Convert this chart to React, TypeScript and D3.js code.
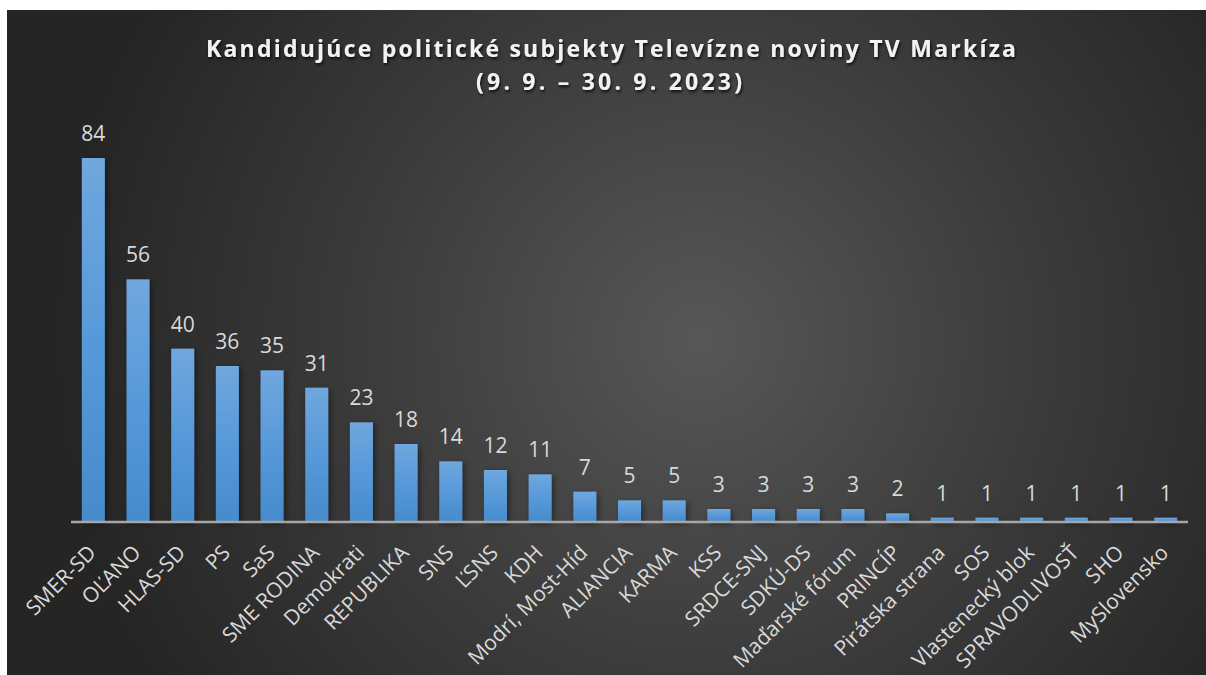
import React from "react";
import * as d3 from "d3";

const categories = [
  "SMER-SD", "OĽANO", "HLAS-SD", "PS", "SaS", "SME RODINA", "Demokrati", "REPUBLIKA",
  "SNS", "ĽSNS", "KDH", "Modrí, Most-Híd", "ALIANCIA", "KARMA", "KSS", "SRDCE-SNJ",
  "SDKÚ-DS", "Maďarské fórum", "PRINCÍP", "Pirátska strana", "SOS", "Vlastenecký blok",
  "SPRAVODLIVOSŤ", "SHO", "MySlovensko",
];
const values = [84, 56, 40, 36, 35, 31, 23, 18, 14, 12, 11, 7, 5, 5, 3, 3, 3, 3, 2, 1, 1, 1, 1, 1, 1];
const titleLines = ["Kandidujúce politické subjekty Televízne noviny TV Markíza", "(9. 9. – 30. 9. 2023)"];

const W = 1206;
const H = 675;
const axisY = 522;
const x0 = 71;
const x1 = 1188;

export default function App() {
  const x = d3.scaleBand<string>().domain(categories).range([x0, x1]).paddingInner(0.485).paddingOuter(0.2425);
  const y = d3.scaleLinear().domain([0, 90]).range([axisY, axisY - 90 * (364 / 84)]);
  const font = "'Open Sans', 'Noto Sans', sans-serif";
  return (
    <svg width={W} height={H} style={{ position: "absolute", left: 0, top: 0 }}>
      <defs>
        <radialGradient id="bg" gradientUnits="userSpaceOnUse" cx={700} cy={340} r={640}>
          <stop offset="0" stopColor="#575757" />
          <stop offset="0.55" stopColor="#3a3a3a" />
          <stop offset="1" stopColor="#252525" />
        </radialGradient>
        <linearGradient id="bar" x1="0" y1="0" x2="0" y2="1">
          <stop offset="0" stopColor="#70a7dd" />
          <stop offset="0.5" stopColor="#5799da" />
          <stop offset="1" stopColor="#468bcb" />
        </linearGradient>
        <filter id="shadow" x="-30%" y="-10%" width="160%" height="130%">
          <feDropShadow dx="2" dy="2" stdDeviation="3" floodColor="#000" floodOpacity="0.45" />
        </filter>
        <filter id="tshadow" x="-5%" y="-30%" width="110%" height="160%">
          <feDropShadow dx="1" dy="2" stdDeviation="1.5" floodColor="#000" floodOpacity="0.8" />
        </filter>
      </defs>
      <rect x={0} y={0} width={W} height={H} fill="#fff" />
      <rect x={7} y={10} width={W - 7} height={H - 10} fill="url(#bg)" />
      <g fill="#f2f2f2" fontFamily={font} fontWeight="bold" textAnchor="middle" filter="url(#tshadow)">
        <text x={611} y={57} fontSize={23} textLength={810} lengthAdjust="spacing">{titleLines[0]}</text>
        <text x={609} y={90} fontSize={23} textLength={266} lengthAdjust="spacing">{titleLines[1]}</text>
      </g>
      <g filter="url(#shadow)">
        {categories.map((c, i) => (
          <rect key={c} x={x(c)} y={y(values[i])} width={x.bandwidth()} height={axisY - y(values[i])} fill="url(#bar)" />
        ))}
      </g>
      <line x1={x0} x2={x1} y1={axisY} y2={axisY} stroke="#a6a6a6" strokeWidth={2.5} />
      <g fill="#d9d9d9" fontFamily={font} fontSize={21} textAnchor="middle">
        {categories.map((c, i) => (
          <text key={c} x={(x(c) as number) + x.bandwidth() / 2} y={y(values[i]) - 17}>{values[i]}</text>
        ))}
      </g>
      <g fill="#d9d9d9" fontFamily={font} fontSize={21} textAnchor="end">
        {categories.map((c) => (
          <text key={c} transform={`translate(${(x(c) as number) + x.bandwidth() / 2 + 4},${axisY + 32}) rotate(-45)`}>{c}</text>
        ))}
      </g>
    </svg>
  );
}
